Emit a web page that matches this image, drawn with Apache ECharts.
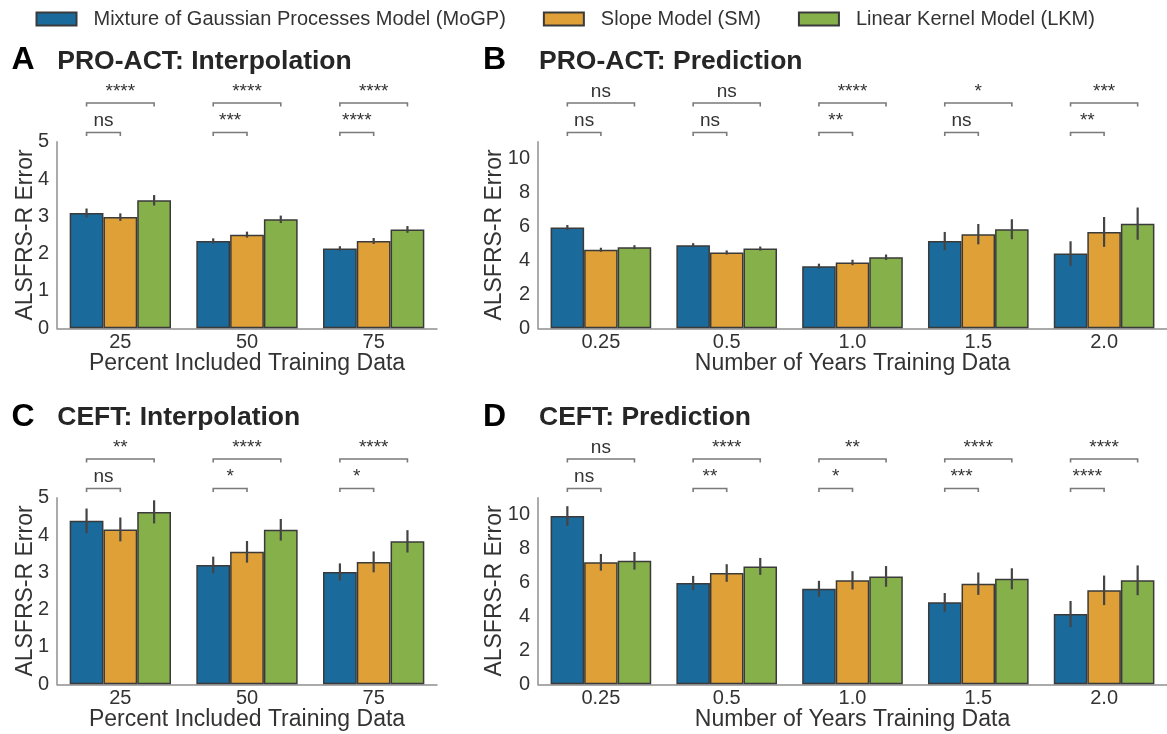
<!DOCTYPE html>
<html>
<head>
<meta charset="utf-8">
<script src="https://cdn.jsdelivr.net/npm/echarts@6/dist/echarts.min.js"></script>
<style>
html,body{margin:0;padding:0;background:#fff;}
#chart{width:1167px;height:734px;}
</style>
</head>
<body>
<div id="chart"></div>
<script>
// ---------- data ----------
const modelNames = ['Mixture of Gaussian Processes Model (MoGP)', 'Slope Model (SM)', 'Linear Kernel Model (LKM)'];
const interpCats = ['25', '50', '75'];
const predCats = ['0.25', '0.5', '1.0', '1.5', '2.0'];

// Panel A: PRO-ACT Interpolation
const aMoGP = [3.09, 2.34, 2.14];
const aSM   = [2.98, 2.51, 2.34];
const aLKM  = [3.43, 2.92, 2.65];
const aMoGPErr = [0.12, 0.07, 0.06];
const aSMErr   = [0.10, 0.08, 0.08];
const aLKMErr  = [0.14, 0.10, 0.09];
const aSigLKM = ['****', '****', '****'];
const aSigSM  = ['ns', '***', '****'];

// Panel B: PRO-ACT Prediction
const bMoGP = [5.94, 4.90, 3.66, 5.14, 4.41];
const bSM   = [4.63, 4.47, 3.88, 5.55, 5.68];
const bLKM  = [4.78, 4.70, 4.19, 5.84, 6.17];
const bMoGPErr = [0.15, 0.12, 0.15, 0.54, 0.72];
const bSMErr   = [0.12, 0.12, 0.16, 0.60, 0.88];
const bLKMErr  = [0.12, 0.12, 0.16, 0.59, 0.95];
const bSigLKM = ['ns', 'ns', '****', '*', '***'];
const bSigSM  = ['ns', 'ns', '**', 'ns', '**'];

// Panel C: CEFT Interpolation
const cMoGP = [4.38, 3.20, 3.01];
const cSM   = [4.15, 3.55, 3.28];
const cLKM  = [4.62, 4.14, 3.83];
const cMoGPErr = [0.33, 0.22, 0.23];
const cSMErr   = [0.32, 0.29, 0.28];
const cLKMErr  = [0.31, 0.29, 0.30];
const cSigLKM = ['**', '****', '****'];
const cSigSM  = ['ns', '*', '*'];

// Panel D: CEFT Prediction
const dMoGP = [9.92, 5.97, 5.63, 4.83, 4.14];
const dSM   = [7.19, 6.56, 6.13, 5.93, 5.54];
const dLKM  = [7.28, 6.95, 6.36, 6.22, 6.13];
const dMoGPErr = [0.58, 0.42, 0.47, 0.55, 0.77];
const dSMErr   = [0.49, 0.52, 0.54, 0.66, 0.87];
const dLKMErr  = [0.52, 0.50, 0.61, 0.62, 0.88];
const dSigLKM = ['ns', '****', '**', '****', '****'];
const dSigSM  = ['ns', '**', '*', '***', '****'];

const panelLetters = ['A', 'B', 'C', 'D'];
const panelTitles = ['PRO-ACT: Interpolation', 'PRO-ACT: Prediction', 'CEFT: Interpolation', 'CEFT: Prediction'];
const xNames = ['Percent Included Training Data', 'Number of Years Training Data', 'Percent Included Training Data', 'Number of Years Training Data'];
const yName = 'ALSFRS-R Error';

// ---------- styling / layout ----------
const FONT = "'Liberation Sans', Arial, Helvetica, sans-serif";
const colors = ['#1a6a9c', '#dfa037', '#86b04a'];
const edge = '#3a3a3a';
const axisGray = '#8f8f8f';
const textCol = '#333333';

const panels = [
  {cats: interpCats, means: [aMoGP, aSM, aLKM], errs: [aMoGPErr, aSMErr, aLKMErr], sigL: aSigLKM, sigS: aSigSM, max: 5, interval: 1},
  {cats: predCats, means: [bMoGP, bSM, bLKM], errs: [bMoGPErr, bSMErr, bLKMErr], sigL: bSigLKM, sigS: bSigSM, max: 11, interval: 2},
  {cats: interpCats, means: [cMoGP, cSM, cLKM], errs: [cMoGPErr, cSMErr, cLKMErr], sigL: cSigLKM, sigS: cSigSM, max: 5, interval: 1},
  {cats: predCats, means: [dMoGP, dSM, dLKM], errs: [dMoGPErr, dSMErr, dLKMErr], sigL: dSigLKM, sigS: dSigSM, max: 11, interval: 2}
];

const grids = [
  {left: 57, top: 141.7, width: 380, height: 186.6},
  {left: 538, top: 141.7, width: 632, height: 186.6},
  {left: 57, top: 497.7, width: 380, height: 186.6},
  {left: 538, top: 497.7, width: 632, height: 186.6}
];
const yNameGaps = [20, 32, 20, 32];
const titleY = [62.5, 62.5, 418.7, 418.7];
const letterX = [11.5, 483, 11.5, 483];
const titleX = [57.3, 539, 57.3, 539];

const xAxes = [], yAxes = [], series = [], graphics = [];

function errRender(k) {
  return function (params, api) {
    const idx = api.value(0), m = api.value(1), e = api.value(2);
    const band = api.size([1, 0])[0];
    const bw = band * 0.8 / 3;
    const lo = api.coord([idx, m - e]);
    const hi = api.coord([idx, m + e]);
    const x = lo[0] + (k - 1) * bw;
    return {type: 'line', shape: {x1: x, y1: lo[1], x2: x, y2: hi[1]},
            style: {stroke: '#444444', lineWidth: 2.2}};
  };
}

function sigRender(sigL, sigS) {
  return function (params, api) {
    const idx = api.value(0);
    const c = api.coord([idx, 0]);
    const band = api.size([1, 0])[0];
    const bw = band * 0.8 / 3;
    const xb = c[0] - bw, xo = c[0], xg = c[0] + bw;
    const top = params.coordSys.y;
    const yU = top - 38.7, yL = top - 9.2, t = 3.5;
    const lineStyle = {stroke: '#7a7a7a', lineWidth: 1.6, fill: null};
    return {
      type: 'group',
      children: [
        {type: 'polyline', shape: {points: [[xb, yU + t], [xb, yU], [xg, yU], [xg, yU + t]]}, style: lineStyle},
        {type: 'polyline', shape: {points: [[xb, yL + t], [xb, yL], [xo, yL], [xo, yL + t]]}, style: lineStyle},
        {type: 'text', style: {x: (xb + xg) / 2, y: yU - 11.6, text: sigL[idx], align: 'center', verticalAlign: 'middle',
          fill: textCol, font: '19px ' + FONT}},
        {type: 'text', style: {x: (xb + xo) / 2, y: yL - 11.6, text: sigS[idx], align: 'center', verticalAlign: 'middle',
          fill: textCol, font: '19px ' + FONT}}
      ]
    };
  };
}

panels.forEach(function (p, g) {
  xAxes.push({
    type: 'category', gridIndex: g, data: p.cats,
    axisLine: {lineStyle: {color: axisGray, width: 1.5}},
    axisTick: {show: false},
    axisLabel: {color: textCol, fontSize: 20, fontFamily: FONT, margin: 4},
    name: xNames[g], nameLocation: 'middle', nameGap: 24, nameMoveOverlap: false,
    nameTextStyle: {color: textCol, fontSize: 23, fontFamily: FONT}
  });
  yAxes.push({
    type: 'value', gridIndex: g, min: 0, max: p.max, interval: p.interval,
    axisLine: {show: true, lineStyle: {color: axisGray, width: 1.5}},
    axisTick: {show: false},
    splitLine: {show: false},
    axisLabel: {color: textCol, fontSize: 20, fontFamily: FONT, margin: 8, showMaxLabel: p.max % p.interval === 0,
      formatter: function (v) { return (v % p.interval === 0) ? String(v) : ''; }},
    name: yName, nameLocation: 'middle', nameGap: yNameGaps[g], nameMoveOverlap: false,
    nameTextStyle: {color: textCol, fontSize: 23, fontFamily: FONT}
  });
  for (let k = 0; k < 3; k++) {
    series.push({
      type: 'bar', name: modelNames[k], xAxisIndex: g, yAxisIndex: g,
      data: p.means[k], barGap: '0%', barCategoryGap: '20%',
      itemStyle: {color: colors[k], borderColor: edge, borderWidth: 1.5},
      emphasis: {disabled: true}
    });
  }
  for (let k = 0; k < 3; k++) {
    series.push({
      type: 'custom', xAxisIndex: g, yAxisIndex: g, z: 5, clip: false,
      renderItem: errRender(k), encode: {x: 0, y: 1},
      data: p.means[k].map(function (m, i) { return [i, m, p.errs[k][i]]; })
    });
  }
  series.push({
    type: 'custom', xAxisIndex: g, yAxisIndex: g, z: 6, clip: false,
    renderItem: sigRender(p.sigL, p.sigS), encode: {x: 0, y: 1},
    data: p.cats.map(function (c, i) { return [i, 0]; })
  });
  graphics.push({type: 'text', left: letterX[g], top: titleY[g] - 18, silent: true,
    style: {text: panelLetters[g], fill: '#000', font: 'bold 32px ' + FONT}});
  graphics.push({type: 'text', left: titleX[g], top: titleY[g] - 14.5, silent: true,
    style: {text: panelTitles[g], fill: '#262626', font: 'bold 26.5px ' + FONT}});
});

const chart = echarts.init(document.getElementById('chart'), null, {renderer: 'canvas'});
chart.setOption({
  animation: false,
  backgroundColor: '#ffffff',
  legend: {
    data: modelNames, left: 35.5, top: 9, padding: 0, itemWidth: 40, itemHeight: 13, itemGap: 37,
    icon: 'rect',
    textStyle: {color: textCol, fontSize: 20, fontFamily: FONT, padding: [0, 0, 0, 12]},
    selectedMode: false
  },
  grid: grids.map(function (gr) { return Object.assign({containLabel: false}, gr); }),
  xAxis: xAxes,
  yAxis: yAxes,
  series: series,
  graphic: graphics
});
</script>
</body>
</html>
